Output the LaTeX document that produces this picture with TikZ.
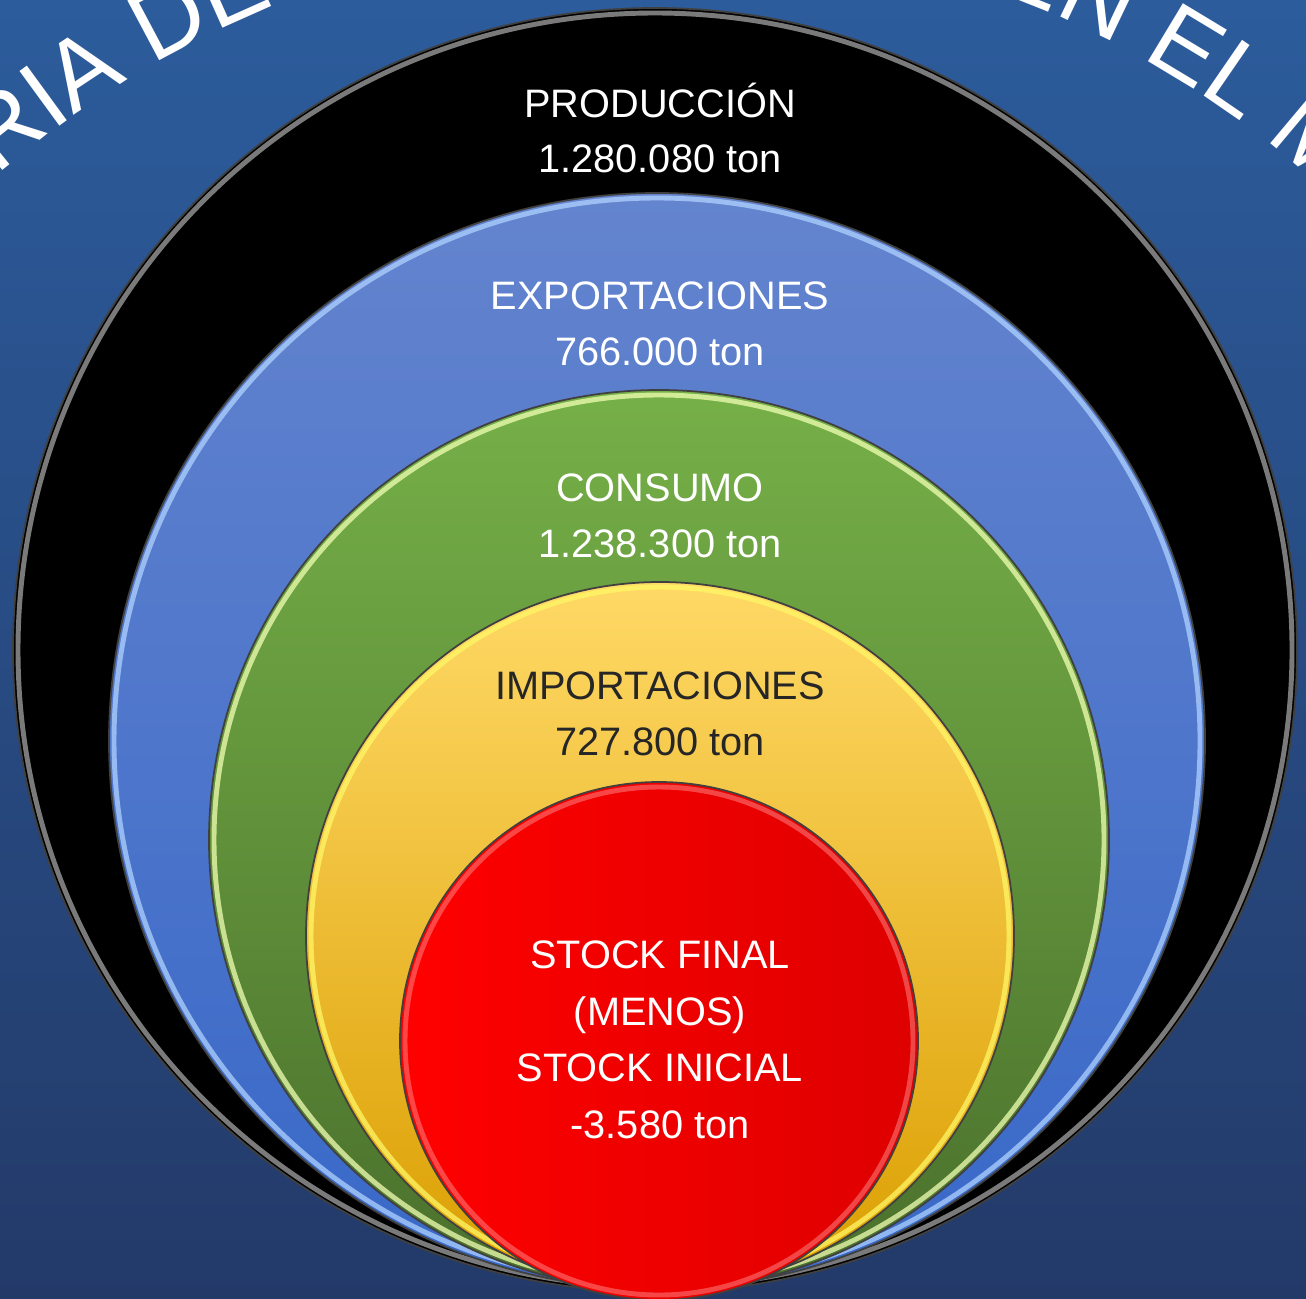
\documentclass[tikz,border=0pt]{standalone}
\usepackage{fontspec}
\setmainfont{Liberation Sans}
\usetikzlibrary{shapes,positioning,decorations.text}
\definecolor{bgtop}{RGB}{44,92,156}
\definecolor{bgbot}{RGB}{35,58,105}
\definecolor{bluetop}{RGB}{100,132,206}
\definecolor{bluebot}{RGB}{56,104,200}
\definecolor{bluerim}{RGB}{175,210,255}
\definecolor{greentop}{RGB}{118,176,72}
\definecolor{greenbot}{RGB}{74,112,44}
\definecolor{yellowtop}{RGB}{255,217,102}
\definecolor{yellowmid}{RGB}{255,192,0}
\definecolor{yellowbot}{RGB}{218,158,0}
\definecolor{redtop}{RGB}{255,0,0}
\definecolor{redbot}{RGB}{222,0,0}
\definecolor{darktext}{RGB}{38,38,38}
\tikzstyle{disc} = [circle, inner sep=0pt, draw=black!75, line width=0.5pt]
\tikzstyle{rim} = [line width=1.4pt, opacity=0.75]
\tikzstyle{lbl} = [align=center, text=white, inner sep=0pt,
    font=\fontsize{11.3}{15.9}\selectfont]
\tikzstyle{arctext} = [decorate, decoration={text along path, text align=left,
    text={|\fontsize{28}{30}\selectfont\color{white}|#1}}]

\begin{document}
\begin{tikzpicture}
  % Frame and background
  \useasboundingbox (0,0) rectangle (13.06,12.98);
  \clip (0,0) rectangle (13.06,12.98);
  \fill[top color=bgtop, bottom color=bgbot] (0,0) rectangle (13.06,12.98);
  % Title along the arc
  \coordinate (arc) at (6.53,3.67);
  \path[arctext={RIA DE}] (arc) ++(131.0:10.0) arc[start angle=131.0, end angle=100, radius=10.0];
  \path[arctext={EN EL M}] (arc) ++(70.2:10.0) arc[start angle=70.2, end angle=35, radius=10.0];
  % Place circles
  \node [disc, minimum size=12.84cm, fill=black] (c1) at (6.55,6.48) {};
  \draw [rim, white!80!black, opacity=0.6] (c1.center) circle (6.37);
  \node [disc, minimum size=10.96cm, top color=bluetop, bottom color=bluebot] (c2) at (6.57,5.57) {};
  \draw [rim, bluerim] (c2.center) circle (5.43);
  \node [disc, minimum size=9.0cm, top color=greentop, bottom color=greenbot] (c3) at (6.59,4.58) {};
  \draw [rim, green!20!yellow!30!white] (c3.center) circle (4.45);
  \node [disc, minimum size=7.08cm, top color=yellowtop, middle color=yellowmid, bottom color=yellowbot] (c4) at (6.60,3.62) {};
  \draw [rim, yellow!60!white] (c4.center) circle (3.49);
  \node [disc, minimum size=5.18cm, left color=redtop, right color=redbot] (c5) at (6.59,2.57) {};
  \draw [rim, red!45!white, opacity=0.5] (c5.center) circle (2.54);
  % Labels
  \node [lbl] (t1) at (6.60,11.70) {PRODUCCIÓN\\1.280.080 ton};
  \node [lbl] (t2) at (6.60,9.74) {EXPORTACIONES\\766.000 ton};
  \node [lbl] (t3) at (6.60,7.82) {CONSUMO\\1.238.300 ton};
  \node [lbl, text=darktext] (t4) at (6.60,5.84) {IMPORTACIONES\\727.800 ton};
  \node [lbl, font=\fontsize{11.3}{16.1}\selectfont] (t5) at (6.60,2.58) {STOCK FINAL\\(MENOS)\\STOCK INICIAL\\-3.580 ton};
\end{tikzpicture}
\end{document}
